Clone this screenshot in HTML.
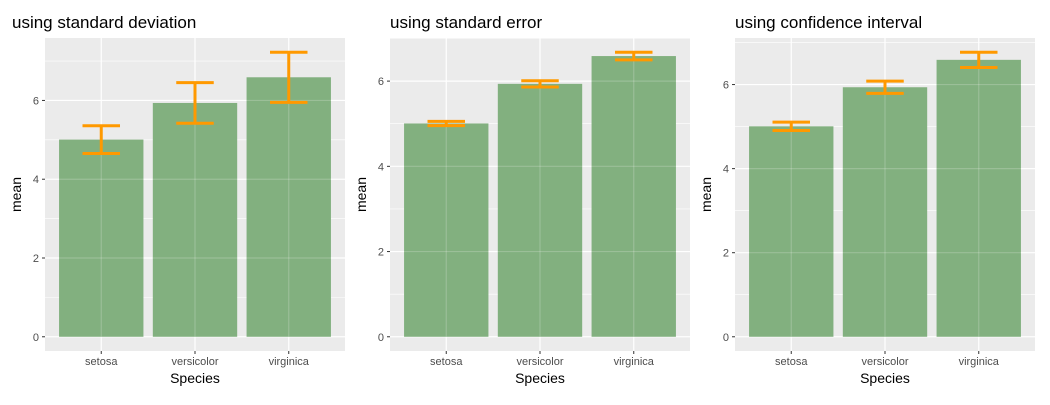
<!DOCTYPE html>
<html><head><meta charset="utf-8">
<style>
body{margin:0;background:#fff;font-family:"Liberation Sans",Arial,sans-serif;}
svg text{font-family:"Liberation Sans",Arial,sans-serif;}
</style></head>
<body>
<svg id="chart" width="1050" height="400" xmlns="http://www.w3.org/2000/svg"></svg>
<script>
const categories = ["setosa","versicolor","virginica"];
const means = [5.006, 5.936, 6.588];
const sdVals = [0.352, 0.516, 0.636];
const seVals = [0.0498, 0.0730, 0.0899];
const ciVals = [0.100, 0.147, 0.181];
const titles = ["using standard deviation","using standard error","using confidence interval"];
const yTicks = [0,2,4,6];

const NS="http://www.w3.org/2000/svg";
const svg=document.getElementById('chart');
function mk(tag,attrs,parent){const e=document.createElementNS(NS,tag);for(const k in attrs)e.setAttribute(k,attrs[k]);(parent||svg).appendChild(e);return e;}

const panels=[{x0:45,x1:345,tx:12,err:sdVals,slug:"sd"},{x0:390,x1:690,tx:390,err:seVals,slug:"se"},{x0:735,x1:1035,tx:735,err:ciVals,slug:"ci"}];
const plotTop=38,plotBottom=351;

panels.forEach((p,pi)=>{
  const g=mk('g',{});
  
  
  let mx=0;for(let i=0;i<means.length;i++)mx=Math.max(mx,means[i]+p.err[i]);
  const d0=-0.05*mx,d1=1.05*mx;
  const y=v=>plotBottom-(v-d0)/(d1-d0)*(plotBottom-plotTop);
  const n=categories.length;
  const band=(p.x1-p.x0)/(n-1+1.2);
  const x=i=>p.x0+band*0.6+i*band;
  const bg=mk('rect',{x:p.x0,y:plotTop,width:p.x1-p.x0,height:plotBottom-plotTop,fill:'#EBEBEB'},g);
  
  for(let t=1;t<=7;t+=2){if(t>d1)break;mk('line',{x1:p.x0,x2:p.x1,y1:y(t),y2:y(t),stroke:'#fff','stroke-width':0.6},g);}
  yTicks.forEach(t=>{
    mk('line',{x1:p.x0,x2:p.x1,y1:y(t),y2:y(t),stroke:'#fff','stroke-width':1.2},g);
    mk('line',{x1:p.x0-3,x2:p.x0,y1:y(t),y2:y(t),stroke:'#333','stroke-width':1},g);
    const tl=mk('text',{x:p.x0-6,y:y(t)+4,'text-anchor':'end','font-size':11,fill:'#4d4d4d'},g);
    tl.textContent=t;
    
  });
  categories.forEach((c,i)=>{
    mk('line',{x1:x(i),x2:x(i),y1:plotTop,y2:plotBottom,stroke:'#fff','stroke-width':1.2},g);
    mk('line',{x1:x(i),x2:x(i),y1:plotBottom,y2:plotBottom+3,stroke:'#333','stroke-width':1},g);
    const tl=mk('text',{x:x(i),y:plotBottom+14,'text-anchor':'middle','font-size':11,fill:'#4d4d4d'},g);
    tl.textContent=c;
    
  });
  categories.forEach((c,i)=>{
    const bw=band*0.9;
    const b=mk('rect',{x:x(i)-bw/2,y:y(means[i]),width:bw,height:y(0)-y(means[i]),fill:'#82B07F'},g);
    
    mk('line',{x1:x(i),x2:x(i),y1:y(means[i]),y2:y(0),stroke:'rgba(255,255,255,0.2)','stroke-width':1.2},g);
    yTicks.forEach(t=>{ if(t>0&&t<means[i]) mk('line',{x1:x(i)-bw/2,x2:x(i)+bw/2,y1:y(t),y2:y(t),stroke:'rgba(255,255,255,0.2)','stroke-width':1.2},g);});
  });
  categories.forEach((c,i)=>{
    const eg=mk('g',{stroke:'#FF9900','stroke-width':3,fill:'none'},g);
    
    const hw=band*0.2, lo=y(means[i]-p.err[i]), hi=y(means[i]+p.err[i]);
    mk('line',{x1:x(i),x2:x(i),y1:lo,y2:hi},eg);
    mk('line',{x1:x(i)-hw,x2:x(i)+hw,y1:lo,y2:lo},eg);
    mk('line',{x1:x(i)-hw,x2:x(i)+hw,y1:hi,y2:hi},eg);
  });
  const tt=mk('text',{x:p.tx,y:28,'font-size':17,fill:'#000'},g);
  tt.textContent=titles[pi];
  
  const xl=mk('text',{x:(p.x0+p.x1)/2,y:383,'text-anchor':'middle','font-size':14,fill:'#000'},g);
  xl.textContent='Species';
  
  const yx=p.x0-24,yy=(plotTop+plotBottom)/2;
  const yl=mk('text',{x:yx,y:yy,'text-anchor':'middle','font-size':14,fill:'#000',transform:`rotate(-90 ${yx} ${yy})`},g);
  yl.textContent='mean';
  
});
</script>
</body></html>
